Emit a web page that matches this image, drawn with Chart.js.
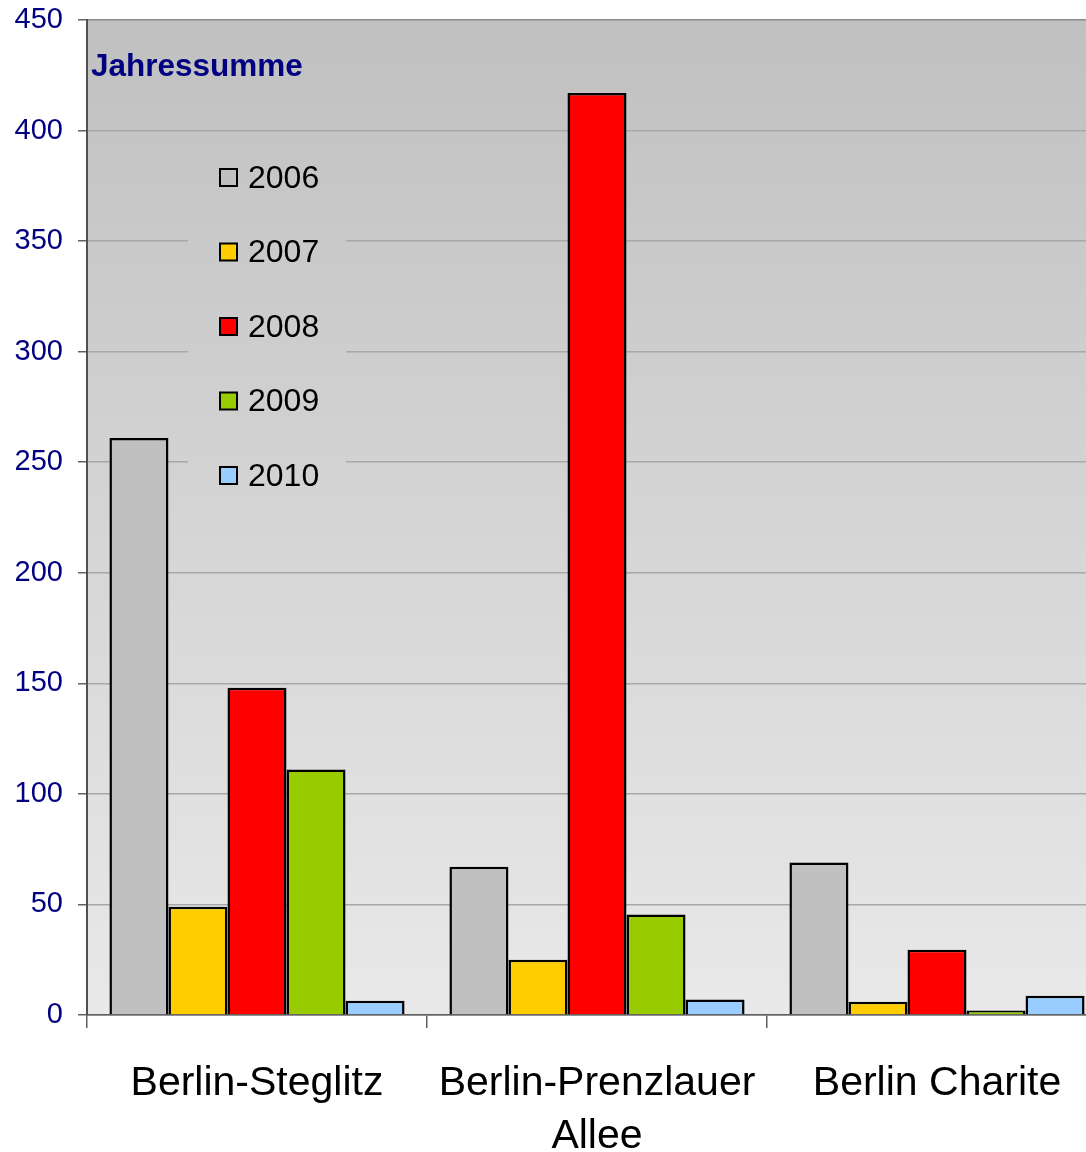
<!DOCTYPE html>
<html>
<head>
<meta charset="utf-8">
<script src="https://cdn.jsdelivr.net/npm/chart.js@4/dist/chart.umd.min.js"></script>
<style>
  html, body { margin: 0; padding: 0; background: #fff; overflow: hidden; }
  #wrap { width: 1086px; height: 1152px; overflow: hidden; }
</style>
</head>
<body>
<div id="wrap"><canvas id="chart" width="1107" height="1152"></canvas></div>
<script>
// data
const categories = ['Berlin-Steglitz', ['Berlin-Prenzlauer', 'Allee'], 'Berlin Charite'];
const years = ['2006', '2007', '2008', '2009', '2010'];
const values2006 = [261, 67, 69];
const values2007 = [49, 25, 6];
const values2008 = [148, 417, 29.5];
const values2009 = [111, 45.5, 2];
const values2010 = [6.5, 7, 8.7];
const yTicks = [0, 50, 100, 150, 200, 250, 300, 350, 400, 450];

const colors = ['#c0c0c0', '#ffcc00', '#ff0000', '#99cc00', '#99ccff'];
const series = [values2006, values2007, values2008, values2009, values2010];

let bgGradient = null;

// gradient plot background
const backgroundPlugin = {
    id: 'plotBackground',
    beforeDraw(chart) {
        const { ctx, chartArea } = chart;
        bgGradient = ctx.createLinearGradient(0, chartArea.top, 0, chartArea.bottom);
        bgGradient.addColorStop(0, '#c0c0c0');
        bgGradient.addColorStop(1, '#e9e9e9');
        ctx.save();
        ctx.fillStyle = bgGradient;
        ctx.fillRect(chartArea.left, chartArea.top, chartArea.right - chartArea.left, chartArea.bottom - chartArea.top);
        ctx.restore();
    }
};

// title + legend drawn inside the plot, hiding the grid behind the legend
const insideLegend = {
    id: 'insideLegend',
    beforeDatasetsDraw(chart) {
        const { ctx, chartArea } = chart;
        ctx.save();
        ctx.fillStyle = bgGradient;
        ctx.fillRect(188, 140, 158, 375);

        ctx.fillStyle = '#000080';
        ctx.font = 'bold 31.5px "Liberation Sans", Arial, sans-serif';
        ctx.textBaseline = 'middle';
        ctx.textAlign = 'left';
        ctx.fillText('Jahressumme', chartArea.left + 4, 67);

        ctx.font = '32px "Liberation Sans", Arial, sans-serif';
        chart.data.datasets.forEach((ds, i) => {
            const y = 178 + i * 74.5;
            ctx.fillStyle = ds.backgroundColor;
            ctx.fillRect(220, y - 9, 17, 17);
            ctx.lineWidth = 2;
            ctx.strokeStyle = '#000';
            ctx.strokeRect(220, y - 9, 17, 17);
            ctx.fillStyle = '#000';
            ctx.fillText(ds.label, 248, y + 1);
        });
        ctx.restore();
    }
};

const ctx = document.getElementById('chart').getContext('2d');
const chart = new Chart(ctx, {
    type: 'bar',
    data: {
        labels: categories,
        datasets: years.map((year, i) => ({
            label: year,
            data: series[i],
            backgroundColor: colors[i],
            borderColor: '#000',
            borderWidth: 2.5,
            borderSkipped: 'bottom',
            categoryPercentage: 0.868,
            barPercentage: 1.0
        }))
    },
    options: {
        responsive: false,
        animation: false,
        layout: { padding: { top: 20, left: 0, right: 0, bottom: 0 } },
        plugins: {
            legend: { display: false },
            tooltip: { enabled: false }
        },
        scales: {
            x: {
                afterFit(scale) { scale.height = 137; scale.paddingLeft = 0; scale.paddingRight = 0; },
                grid: {
                    offset: true,
                    drawOnChartArea: false,
                    tickLength: 13,
                    tickColor: '#606060',
                    lineWidth: 1.5
                },
                border: { color: '#606060', width: 1.5 },
                ticks: {
                    color: '#000',
                    autoSkip: false,
                    maxRotation: 0,
                    minRotation: 0,
                    padding: 29,
                    font: { family: '"Liberation Sans", Arial, sans-serif', size: 41, lineHeight: 1.3 }
                }
            },
            y: {
                min: 0,
                max: 450,
                afterFit(scale) { scale.width = 87; scale.paddingTop = 0; scale.paddingBottom = 0; },
                afterBuildTicks(scale) { scale.ticks = yTicks.map(v => ({ value: v })); },
                grid: {
                    color: c => (c.tick && (c.tick.value === 0 || c.tick.value === 450)) ? '#8a8a8a' : '#a8a8a8',
                    lineWidth: 1.5,
                    tickLength: 9,
                    tickColor: '#606060'
                },
                border: { color: '#505050', width: 2 },
                ticks: {
                    color: '#000080',
                    padding: 15,
                    font: { family: '"Liberation Sans", Arial, sans-serif', size: 29 }
                }
            }
        }
    },
    plugins: [backgroundPlugin, insideLegend]
});
</script>
</body>
</html>
